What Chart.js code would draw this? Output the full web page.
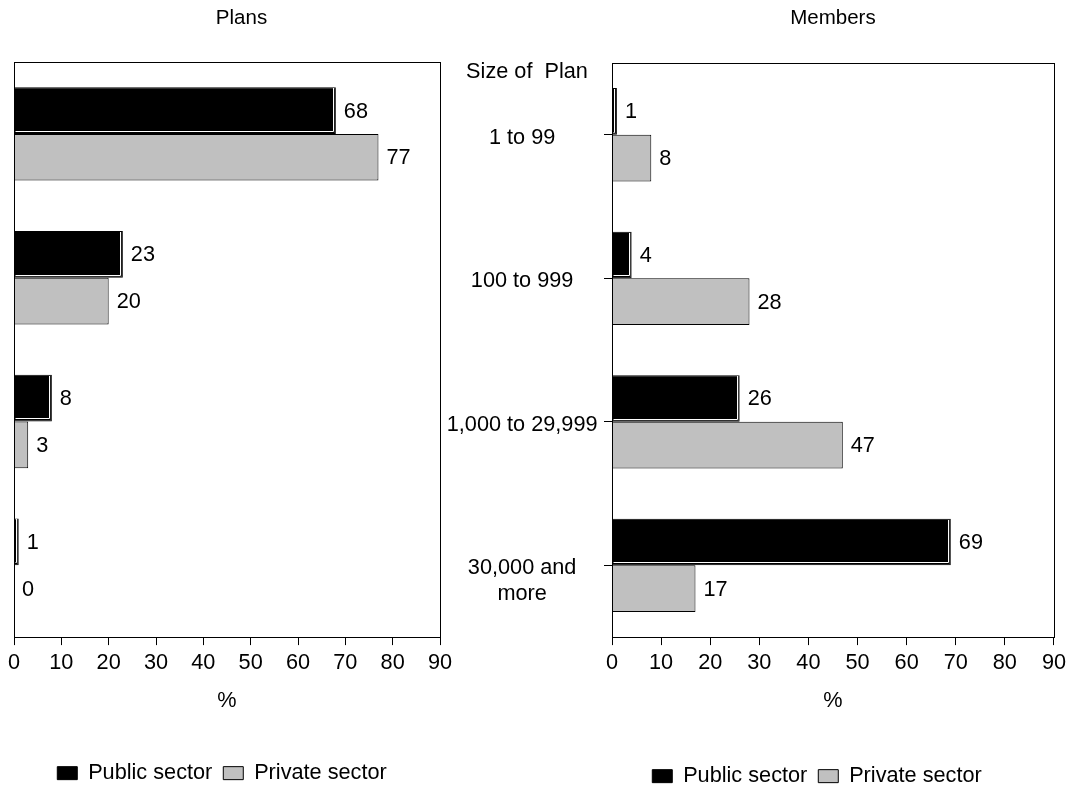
<!DOCTYPE html>
<html>
<head>
<meta charset="utf-8">
<script src="https://cdn.jsdelivr.net/npm/chart.js@4"></script>
<style>
  html, body { margin: 0; padding: 0; background: #fff; overflow: hidden; width: 1071px; height: 786px; }
  canvas { position: absolute; top: 0; }
  #plans { left: 0; }
  #members { left: 430px; }
</style>
</head>
<body>
<canvas id="plans" width="460" height="800"></canvas>
<canvas id="members" width="641" height="800"></canvas>
<script>
// Plan size categories and the two sectors
const categories = ['1 to 99', '100 to 999', '1,000 to 29,999', '30,000 and more'];
const seriesNames = ['Public sector', 'Private sector'];

// Share of plans (%)
const plansPublic = [68, 23, 8, 1];
const plansPrivate = [77, 20, 3, 0];

// Share of members (%)
const membersPublic = [1, 4, 26, 69];
const membersPrivate = [8, 28, 47, 17];

// Percentage axis
const axisMin = 0;
const axisMax = 90;
const axisStep = 10;

const FONT = "'Liberation Sans', Arial, sans-serif";
const FS = 21.7;
const BLACK = '#000000';
const GREY = '#c0c0c0';

// Value written just past the end of each bar
const valueLabels = {
  id: 'valueLabels',
  afterDatasetsDraw(chart) {
    const ctx = chart.ctx;
    ctx.save();
    ctx.font = FS + 'px ' + FONT;
    ctx.fillStyle = '#000';
    ctx.textAlign = 'left';
    ctx.textBaseline = 'middle';
    chart.data.datasets.forEach((ds, i) => {
      chart.getDatasetMeta(i).data.forEach((bar, j) => {
        ctx.fillText(String(ds.data[j]), bar.x + 8, bar.y + 1);
      });
    });
    ctx.restore();
  }
};

// White inner edge on the dark bars
const bevel = {
  id: 'bevel',
  afterDatasetDraw(chart, args) {
    if (args.index !== 0) return;
    const ctx = chart.ctx;
    ctx.save();
    ctx.strokeStyle = '#ffffff';
    ctx.lineWidth = 1;
    args.meta.data.forEach(bar => {
      const p = bar.getProps(['x', 'y', 'base', 'height'], true);
      if (p.x - p.base < 3) return;
      const top = Math.round(p.y - p.height / 2);
      const bottom = Math.round(p.y + p.height / 2);
      const right = Math.round(p.x);
      ctx.beginPath();
      ctx.moveTo(p.base + 1, bottom - 2.5);
      ctx.lineTo(right - 2.5, bottom - 2.5);
      ctx.lineTo(right - 2.5, top + 1);
      ctx.stroke();
    });
    ctx.restore();
  }
};

// Centre the legend row on a chosen x position
const legendPlace = {
  id: 'legendPlace',
  afterLayout(chart, args, opts) {
    const lg = chart.legend;
    if (!lg || opts.center == null) return;
    const dx = opts.center - (lg.left + lg.right) / 2;
    lg.left += dx;
    lg.right += dx;
  }
};

// Box around the plot area plus panel heading and side caption
const decor = {
  id: 'decor',
  afterDraw(chart, args, opts) {
    const ctx = chart.ctx;
    const a = chart.chartArea;
    ctx.save();
    ctx.strokeStyle = '#000';
    ctx.lineWidth = 1;
    const l = Math.round(a.left) + 0.5, t = Math.round(a.top) + 0.5;
    const r = Math.round(a.right) + 0.5, b = Math.round(a.bottom) + 0.5;
    ctx.strokeRect(l, t, r - l, b - t);
    ctx.fillStyle = '#000';
    ctx.textAlign = 'center';
    ctx.textBaseline = 'middle';
    ctx.font = '20.5px ' + FONT;
    ctx.fillText(opts.heading, (a.left + a.right) / 2 + opts.headingShift, 18);
    if (opts.caption) {
      ctx.font = FS + 'px ' + FONT;
      ctx.fillText(opts.caption, a.left + opts.captionShift, a.top + 9);
    }
    ctx.restore();
  }
};

function buildChart(id, pub, priv, cfg) {
  return new Chart(document.getElementById(id), {
    type: 'bar',
    data: {
      labels: categories,
      datasets: [
        { label: seriesNames[0], data: pub, backgroundColor: BLACK, borderColor: BLACK, borderWidth: 1 },
        { label: seriesNames[1], data: priv, backgroundColor: GREY, borderColor: BLACK, borderWidth: 1 }
      ]
    },
    options: {
      indexAxis: 'y',
      responsive: false,
      animation: false,
      layout: { padding: cfg.padding },
      datasets: { bar: { categoryPercentage: 0.65, barPercentage: 1.0 } },
      scales: {
        x: {
          min: axisMin,
          max: axisMax,
          afterFit: s => { s.height = cfg.xAxisHeight; },
          ticks: { stepSize: axisStep, color: '#000', padding: 5, font: { family: FONT, size: FS } },
          grid: { drawOnChartArea: false, tickLength: 8, color: '#000' },
          border: { color: '#000' },
          title: { display: true, text: '%', color: '#000', font: { family: FONT, size: FS }, padding: { top: 0, bottom: cfg.titlePad } }
        },
        y: {
          afterFit: s => { s.width = cfg.yAxisWidth; },
          ticks: {
            display: cfg.showCategories,
            color: '#000',
            crossAlign: 'center',
            padding: 6.5,
            labelOffset: 3,
            font: { family: FONT, size: FS },
            callback: function (v) {
              const t = this.getLabelForValue(v);
              const k = t.indexOf(' and ');
              return k > 0 ? ['', t.slice(0, k + 4), t.slice(k + 5)] : t;
            }
          },
          grid: { offset: false, drawOnChartArea: false, drawTicks: cfg.showCategories, tickLength: 8, color: '#000' },
          border: { color: '#000' }
        }
      },
      plugins: {
        legend: {
          position: 'bottom',
          labels: { color: '#000', boxWidth: 20, boxHeight: 13, padding: 11, font: { family: FONT, size: FS } }
        },
        tooltip: { enabled: false },
        legendPlace: { center: cfg.legendCenter },
        decor: cfg.decor
      }
    },
    plugins: [bevel, valueLabels, legendPlace, decor]
  });
}

buildChart('plans', plansPublic, plansPrivate, {
  padding: { left: 0, right: 20, top: 62, bottom: 6 },
  xAxisHeight: 114.2,
  yAxisWidth: 14,
  titlePad: 37,
  showCategories: false,
  legendCenter: 222,
  decor: { heading: 'Plans', headingShift: 14.5 }
});

buildChart('members', membersPublic, membersPrivate, {
  padding: { left: 0, right: 13, top: 63, bottom: 3 },
  xAxisHeight: 117.2,
  yAxisWidth: 182,
  titlePad: 40,
  showCategories: true,
  legendCenter: 387,
  decor: { heading: 'Members', headingShift: 0, caption: 'Size of  Plan', captionShift: -85 }
});
</script>
</body>
</html>
